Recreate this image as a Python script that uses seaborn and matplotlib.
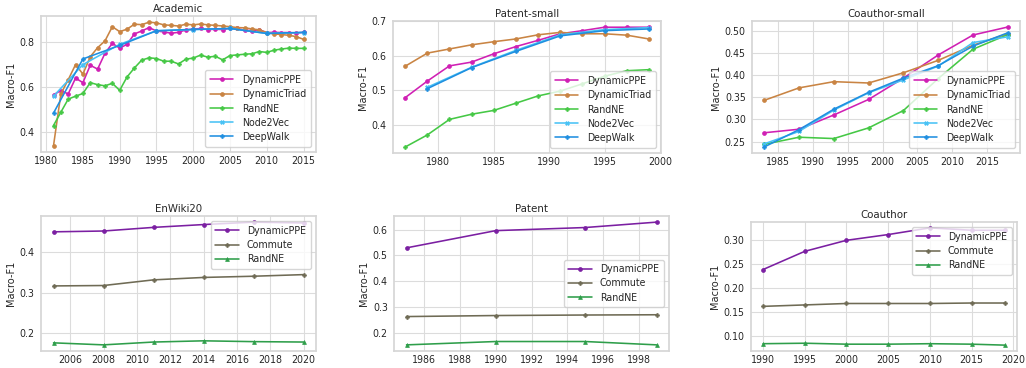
import matplotlib
matplotlib.use("Agg")
import matplotlib.pyplot as plt
import matplotlib.ticker as mticker
import seaborn as sns

# ---------------- data ----------------
# Academic
acad_years = list(range(1981, 2016))
acad_ppe = [0.566, 0.585, 0.570, 0.640, 0.620, 0.697, 0.680, 0.750, 0.794, 0.773,
            0.790, 0.836, 0.849, 0.864, 0.849, 0.845, 0.839, 0.843, 0.854, 0.857,
            0.860, 0.855, 0.857, 0.855, 0.861, 0.860, 0.852, 0.851, 0.854, 0.842,
            0.843, 0.842, 0.842, 0.840, 0.843]
acad_triad = [0.340, 0.570, 0.633, 0.700, 0.658, 0.735, 0.775, 0.805, 0.868, 0.846,
              0.857, 0.879, 0.877, 0.888, 0.885, 0.876, 0.874, 0.871, 0.879, 0.876,
              0.880, 0.876, 0.874, 0.871, 0.868, 0.864, 0.863, 0.858, 0.854, 0.842,
              0.836, 0.833, 0.830, 0.824, 0.812]
acad_randne = [0.430, 0.489, 0.547, 0.560, 0.572, 0.620, 0.611, 0.606, 0.617, 0.586,
               0.645, 0.685, 0.720, 0.730, 0.727, 0.715, 0.715, 0.703, 0.724, 0.729,
               0.742, 0.733, 0.737, 0.721, 0.740, 0.743, 0.746, 0.748, 0.758, 0.754,
               0.764, 0.769, 0.773, 0.772, 0.772]
acad_walk_years = [1981, 1985, 1990, 1995, 2000, 2005, 2010, 2015]
acad_n2v = [0.560, 0.700, 0.790, 0.850, 0.855, 0.860, 0.838, 0.842]
acad_deepwalk = [0.485, 0.725, 0.785, 0.850, 0.856, 0.860, 0.838, 0.843]

# Patent-small
psmall_years = list(range(1977, 2000, 2))
psmall_ppe = [0.478, 0.526, 0.570, 0.581, 0.605, 0.626, 0.644, 0.663, 0.672, 0.682, 0.682, 0.682]
psmall_triad = [0.569, 0.607, 0.619, 0.631, 0.640, 0.648, 0.660, 0.667, 0.663, 0.663, 0.659, 0.648]
psmall_randne = [0.335, 0.370, 0.415, 0.430, 0.441, 0.462, 0.483, 0.497, 0.518, 0.540, 0.556, 0.559]
psmall_walk_years = [1979, 1983, 1987, 1991, 1995, 1999]
psmall_n2v = [0.508, 0.566, 0.615, 0.660, 0.675, 0.681]
psmall_deepwalk = [0.504, 0.565, 0.612, 0.657, 0.672, 0.677]

# Coauthor-small
csmall_years = [1983, 1988, 1993, 1998, 2003, 2008, 2013, 2018]
csmall_ppe = [0.270, 0.278, 0.310, 0.345, 0.393, 0.445, 0.490, 0.508]
csmall_triad = [0.343, 0.371, 0.385, 0.382, 0.405, 0.433, 0.467, 0.493]
csmall_randne = [0.244, 0.260, 0.257, 0.281, 0.320, 0.392, 0.458, 0.491]
csmall_n2v = [0.245, 0.273, 0.321, 0.360, 0.389, 0.420, 0.473, 0.486]
csmall_deepwalk = [0.238, 0.277, 0.323, 0.361, 0.393, 0.421, 0.465, 0.495]

# EnWiki20
wiki_years = [2005, 2008, 2011, 2014, 2017, 2020]
wiki_ppe = [0.451, 0.453, 0.462, 0.469, 0.475, 0.473]
wiki_commute = [0.317, 0.318, 0.332, 0.338, 0.341, 0.345]
wiki_randne = [0.176, 0.171, 0.178, 0.181, 0.179, 0.178]

# Patent
patent_years = [1985, 1990, 1995, 1999]
patent_ppe = [0.529, 0.596, 0.608, 0.629]
patent_commute = [0.262, 0.266, 0.268, 0.269]
patent_randne = [0.152, 0.165, 0.165, 0.152]

# Coauthor
coauth_years = [1990, 1995, 2000, 2005, 2010, 2015, 2019]
coauth_ppe = [0.239, 0.277, 0.300, 0.312, 0.326, 0.321, 0.321]
coauth_commute = [0.162, 0.165, 0.168, 0.168, 0.168, 0.169, 0.169]
coauth_randne = [0.084, 0.085, 0.083, 0.083, 0.084, 0.083, 0.081]

# ---------------- styling ----------------
sns.set_theme(style="whitegrid")
plt.rcParams["font.family"] = ["DejaVu Sans"]
plt.rcParams["font.stretch"] = "condensed"

TICK_FS = 7.6
TITLE_FS = 8.2
LABEL_FS = 7.8
LEGEND_FS = 7.6

TOP_STYLE = {
    "DynamicPPE": dict(color="#d020b4", marker="o"),
    "DynamicTriad": dict(color="#c98443", marker="o"),
    "RandNE": dict(color="#45c845", marker="P"),
    "Node2Vec": dict(color="#48c2f5", marker="X"),
    "DeepWalk": dict(color="#1f8fe0", marker="P"),
}
BOTTOM_STYLE = {
    "DynamicPPE": dict(color="#7b1fa2", marker="o"),
    "Commute": dict(color="#6f6b55", marker="P"),
    "RandNE": dict(color="#2e9e4a", marker="^"),
}

fig = plt.figure(figsize=(10.26, 3.68), dpi=100)
W, H = 1026.0, 368.0


def make_ax(left, top, right, bottom):
    return fig.add_axes([left / W, 1 - bottom / H, (right - left) / W, (bottom - top) / H])


def draw(ax, series, styles, title, legend_loc):
    for name, xs, ys in series:
        st = styles[name]
        sns.lineplot(x=xs, y=ys, ax=ax, label=name, color=st["color"],
                     marker=st["marker"], markersize=2.8, linewidth=1.15,
                     markeredgecolor=st["color"], markeredgewidth=0.5)
    ax.set_title(title, fontsize=TITLE_FS, pad=3)
    ax.set_ylabel("Macro-F1", fontsize=LABEL_FS, labelpad=3)
    ax.set_xlabel("")
    ax.tick_params(axis="x", labelsize=TICK_FS, length=0, pad=3)
    ax.tick_params(axis="y", labelsize=TICK_FS, length=0, pad=4.5)
    ax.grid(color="#dcdcdc", linewidth=0.8)
    ax.legend(loc=legend_loc, fontsize=LEGEND_FS, framealpha=0.8,
              borderpad=0.45, labelspacing=0.4, handlelength=2.2)
    for spine in ax.spines.values():
        spine.set_color("#d6d6d6")


ax1 = make_ax(41, 16, 316, 152)
draw(ax1, [("DynamicPPE", acad_years, acad_ppe),
           ("DynamicTriad", acad_years, acad_triad),
           ("RandNE", acad_years, acad_randne),
           ("Node2Vec", acad_walk_years, acad_n2v),
           ("DeepWalk", acad_walk_years, acad_deepwalk)],
     TOP_STYLE, "Academic", "lower right")
ax1.set_xticks([1980, 1985, 1990, 1995, 2000, 2005, 2010, 2015])
ax1.set_yticks([0.4, 0.6, 0.8])

ax2 = make_ax(393, 21, 661, 153)
draw(ax2, [("DynamicPPE", psmall_years, psmall_ppe),
           ("DynamicTriad", psmall_years, psmall_triad),
           ("RandNE", psmall_years, psmall_randne),
           ("Node2Vec", psmall_walk_years, psmall_n2v),
           ("DeepWalk", psmall_walk_years, psmall_deepwalk)],
     TOP_STYLE, "Patent-small", "lower right")
ax2.set_xticks([1980, 1985, 1990, 1995, 2000])
ax2.set_yticks([0.4, 0.5, 0.6, 0.7])

ax3 = make_ax(752, 21, 1020, 153)
draw(ax3, [("DynamicPPE", csmall_years, csmall_ppe),
           ("DynamicTriad", csmall_years, csmall_triad),
           ("RandNE", csmall_years, csmall_randne),
           ("Node2Vec", csmall_years, csmall_n2v),
           ("DeepWalk", csmall_years, csmall_deepwalk)],
     TOP_STYLE, "Coauthor-small", "lower right")
ax3.set_xticks([1985, 1990, 1995, 2000, 2005, 2010, 2015])
ax3.set_yticks([0.25, 0.30, 0.35, 0.40, 0.45, 0.50])
ax3.yaxis.set_major_formatter(mticker.FormatStrFormatter("%.2f"))

ax4 = make_ax(41, 216, 316, 351)
draw(ax4, [("DynamicPPE", wiki_years, wiki_ppe),
           ("Commute", wiki_years, wiki_commute),
           ("RandNE", wiki_years, wiki_randne)],
     BOTTOM_STYLE, "EnWiki20", "upper right")
ax4.set_xticks(list(range(2006, 2021, 2)))
ax4.set_yticks([0.2, 0.3, 0.4])

ax5 = make_ax(394, 216, 669, 351)
draw(ax5, [("DynamicPPE", patent_years, patent_ppe),
           ("Commute", patent_years, patent_commute),
           ("RandNE", patent_years, patent_randne)],
     BOTTOM_STYLE, "Patent", "center right")
ax5.set_xticks(list(range(1986, 1999, 2)))
ax5.set_yticks([0.2, 0.3, 0.4, 0.5, 0.6])

ax6 = make_ax(751, 222, 1017, 351)
draw(ax6, [("DynamicPPE", coauth_years, coauth_ppe),
           ("Commute", coauth_years, coauth_commute),
           ("RandNE", coauth_years, coauth_randne)],
     BOTTOM_STYLE, "Coauthor", "upper right")
ax6.set_xticks([1990, 1995, 2000, 2005, 2010, 2015, 2020])
ax6.set_yticks([0.10, 0.15, 0.20, 0.25, 0.30])
ax6.yaxis.set_major_formatter(mticker.FormatStrFormatter("%.2f"))

fig.savefig("out.png", dpi=100)
